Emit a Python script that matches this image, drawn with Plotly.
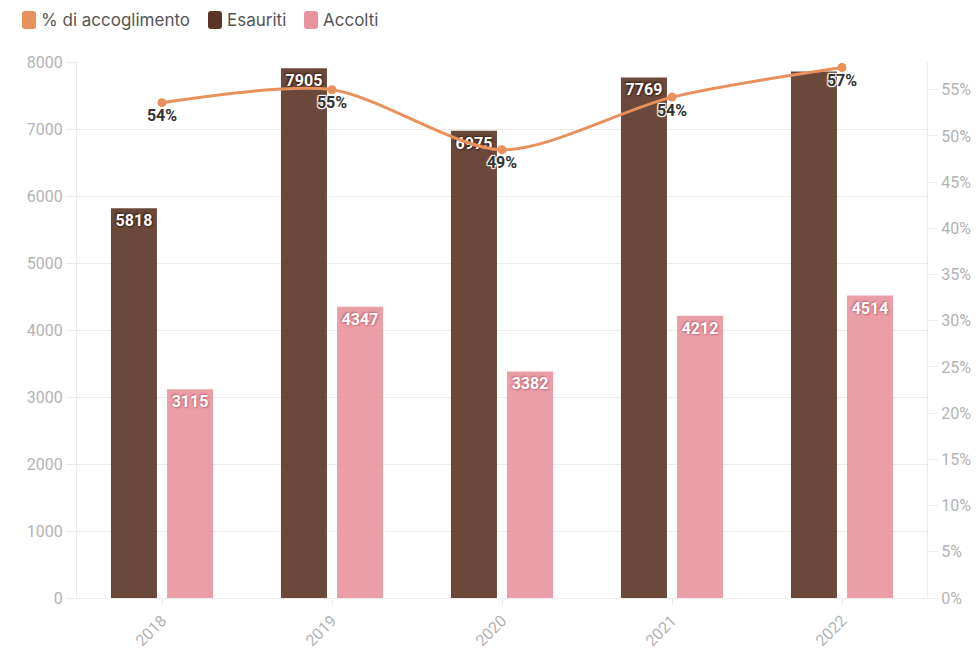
import plotly.graph_objects as go

# Data
anni = ["2018", "2019", "2020", "2021", "2022"]
esauriti = [5818, 7905, 6975, 7769, 7860]
accolti = [3115, 4347, 3382, 4212, 4514]
perc_accoglimento = [0.536, 0.550, 0.485, 0.542, 0.574]
etichette_esauriti = ["%{y}", "%{y}", "%{y}", "%{y}", ""]
voci_legenda = ["% di accoglimento", "Esauriti", "Accolti"]

ARANCIO = "#e8915c"
MARRONE = "#5a3526"
ROSA = "#e8949d"
GRIGIO_TICK = "#b3b3b3"
GRIGIO_LINEA = "#ececec"
FONT_NUM = "Roboto"

# plot area in pixels
W, H = 979, 650
L, R, T, B = 77, 52, 62, 52
PW, PH = W - L - R, H - T - B


def px_x(x):
    return (x - L) / PW


def px_y(y):
    return (H - B - y) / PH


fig = go.Figure()

fig.add_trace(go.Bar(
    x=anni, y=esauriti, name=voci_legenda[1],
    marker=dict(color=MARRONE, opacity=0.9, line=dict(width=0)),
    texttemplate=etichette_esauriti, textposition="inside",
    insidetextanchor="end", textangle=0,
    textfont=dict(family=FONT_NUM, size=16, color="white", weight="bold",
                  shadow="1px 1px 2px #3a2016, -1px -1px 2px #3a2016"),
))

fig.add_trace(go.Bar(
    x=anni, y=accolti, name=voci_legenda[2],
    marker=dict(color=ROSA, opacity=0.9, line=dict(width=0)),
    texttemplate="%{y}", textposition="inside",
    insidetextanchor="end", textangle=0,
    textfont=dict(family=FONT_NUM, size=16, color="white", weight="bold",
                  shadow="1px 1px 2px #c46a74, -1px -1px 2px #c46a74"),
))

fig.add_trace(go.Scatter(
    x=anni, y=perc_accoglimento, name=voci_legenda[0], yaxis="y2",
    mode="lines+markers+text",
    line=dict(color=ARANCIO, width=3, shape="spline", smoothing=0.8),
    marker=dict(color=ARANCIO, size=9),
    texttemplate="%{y:.0%}", textposition="bottom center",
    textfont=dict(family=FONT_NUM, size=16, color="#333333", weight="bold",
                  shadow="1px 1px 1px white, -1px -1px 1px white, 1px -1px 1px white, -1px 1px 1px white"),
))

# custom legend: rounded swatches with labels
colori_legenda = [ARANCIO, MARRONE, ROSA]
swatch_x = [22, 208, 304]
shapes = []
annotations = []
for nome, col, sx in zip(voci_legenda, colori_legenda, swatch_x):
    x0, x1, y0, y1, r = sx, sx + 14, 11, 29, 3
    path = (f"M {px_x(x0 + r)} {px_y(y0)} L {px_x(x1 - r)} {px_y(y0)} "
            f"Q {px_x(x1)} {px_y(y0)} {px_x(x1)} {px_y(y0 + r)} "
            f"L {px_x(x1)} {px_y(y1 - r)} Q {px_x(x1)} {px_y(y1)} {px_x(x1 - r)} {px_y(y1)} "
            f"L {px_x(x0 + r)} {px_y(y1)} Q {px_x(x0)} {px_y(y1)} {px_x(x0)} {px_y(y1 - r)} "
            f"L {px_x(x0)} {px_y(y0 + r)} Q {px_x(x0)} {px_y(y0)} {px_x(x0 + r)} {px_y(y0)} Z")
    shapes.append(dict(type="path", path=path, xref="paper", yref="paper",
                       fillcolor=col, line=dict(width=0), layer="above"))
    annotations.append(dict(text=nome, xref="paper", yref="paper",
                            x=px_x(sx + 17), y=px_y(20), xanchor="left", yanchor="middle",
                            showarrow=False,
                            font=dict(family="Inter", size=17, color="#555555")))

fig.update_layout(
    width=W, height=H,
    margin=dict(l=L, r=R, t=T, b=B, autoexpand=False),
    paper_bgcolor="white", plot_bgcolor="white",
    barmode="group", bargap=0.34, bargroupgap=0.18,
    font=dict(family=FONT_NUM, color=GRIGIO_TICK, size=15),
    showlegend=False,
    shapes=shapes, annotations=annotations,
    xaxis=dict(
        type="category", range=[-0.5, 4.5],
        showgrid=False, showline=True, linecolor=GRIGIO_LINEA, linewidth=1,
        ticks="outside", ticklen=6, tickcolor=GRIGIO_LINEA,
        tickangle=-45, tickfont=dict(family=FONT_NUM, size=16, color=GRIGIO_TICK),
        zeroline=False,
    ),
    yaxis=dict(
        range=[0, 8000], dtick=1000,
        showgrid=True, gridcolor=GRIGIO_LINEA, gridwidth=1,
        showline=True, linecolor=GRIGIO_LINEA, linewidth=1,
        ticks="outside", ticklen=10, tickcolor=GRIGIO_LINEA,
        tickfont=dict(family=FONT_NUM, size=16, color=GRIGIO_TICK),
        zeroline=False,
    ),
    yaxis2=dict(
        overlaying="y", side="right", range=[0, 0.58], dtick=0.05,
        tickformat=".0%", showgrid=False,
        showline=True, linecolor=GRIGIO_LINEA, linewidth=1,
        ticks="outside", ticklen=10, tickcolor=GRIGIO_LINEA,
        tickfont=dict(family=FONT_NUM, size=16, color=GRIGIO_TICK),
        zeroline=False,
    ),
)

fig.write_html("out.html")
